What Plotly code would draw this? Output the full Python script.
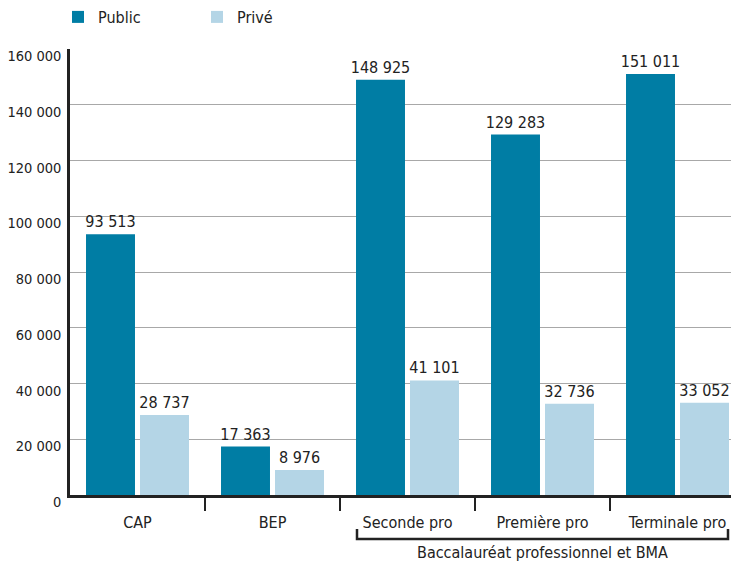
import plotly.graph_objects as go

categories = ["CAP", "BEP", "Seconde pro", "Première pro", "Terminale pro"]
public_values = [93513, 17363, 148925, 129283, 151011]
prive_values = [28737, 8976, 41101, 32736, 33052]
y_ticks = [0, 20000, 40000, 60000, 80000, 100000, 120000, 140000, 160000]
group_label = "Baccalauréat professionnel et BMA"

FONT = "DejaVu Sans Condensed, Liberation Sans Narrow, Arial Narrow, sans-serif"
C_PUB = "#007DA4"
C_PRI = "#B4D5E6"
TXT = "#222222"

xs = list(range(len(categories)))

fig = go.Figure()
fig.add_trace(go.Bar(
    x=xs, y=public_values, name="Public", marker=dict(color=C_PUB, line=dict(width=0)),
    texttemplate="%{y:,}", textposition="outside", cliponaxis=False, constraintext="none",
    textfont=dict(family=FONT, size=16, color=TXT),
))
fig.add_trace(go.Bar(
    x=xs, y=prive_values, name="Privé", marker=dict(color=C_PRI, line=dict(width=0)),
    texttemplate="%{y:,}", textposition="outside", cliponaxis=False, constraintext="none",
    textfont=dict(family=FONT, size=16, color=TXT),
))

# page body has an 8px margin: figure is offset by (8, 8) in the window
OFF = 8
WIN_W, WIN_H = 739, 562
W, H = WIN_W - OFF, WIN_H - OFF
AX_X, AX_Y, TOP_Y = 70, 495, 49          # window pixel positions
L = AX_X - OFF
T = TOP_Y - OFF
B = WIN_H - AX_Y
plot_w = WIN_W - AX_X
plot_h = AX_Y - TOP_Y
cat_px = 135.0
xmax = -0.5 + plot_w / cat_px

fig.update_layout(
    width=W, height=H,
    margin=dict(l=L, r=0, t=T, b=B, pad=0, autoexpand=False),
    paper_bgcolor="white", plot_bgcolor="white",
    separators=", ",
    barmode="group", bargap=0.2, bargroupgap=0.093,
    font=dict(family=FONT, size=16, color=TXT),
    showlegend=True,
    legend=dict(
        orientation="h", xref="container", yref="paper",
        x=(58 - OFF) / W, y=1 + (T + 8) / plot_h, xanchor="left", yanchor="top",
        entrywidth=94, entrywidthmode="pixels",
        font=dict(family=FONT, size=16, color=TXT),
        bgcolor="rgba(0,0,0,0)", itemsizing="constant",
    ),
    xaxis=dict(
        range=[-0.5, xmax], tickmode="array", tickvals=xs, ticktext=categories,
        ticks="outside", ticklen=11, tickcolor="rgba(0,0,0,0)",
        showgrid=False, zeroline=False, automargin=False,
        showline=True, linecolor="#222", linewidth=2.5,
        tickfont=dict(family=FONT, size=16, color=TXT),
        minor=dict(tickmode="array", tickvals=[i + 0.5 for i in xs[:-1]],
                   ticks="outside", ticklen=13, tickwidth=2, tickcolor="#222", showgrid=False),
        fixedrange=True,
    ),
    yaxis=dict(
        range=[0, 160000], tickmode="array", tickvals=y_ticks,
        tickformat=",", ticks="outside", ticklen=3, tickcolor="rgba(0,0,0,0)",
        ticklabelshift=7,
        showgrid=True, gridcolor="#a8a8a8", gridwidth=1.3, automargin=False,
        zeroline=False, showline=True, linecolor="#222", linewidth=2.5,
        tickfont=dict(family=FONT, size=14.5, color=TXT),
        fixedrange=True,
    ),
)

# bracket for grouped categories
x_left = -0.5 + (357 - AX_X) / cat_px
x_right = -0.5 + (728 - AX_X) / cat_px
y_top = -(529 - AX_Y) / plot_h
y_bot = -(539 - AX_Y) / plot_h
fig.add_shape(type="path",
              path=f"M {x_left} {y_top} L {x_left} {y_bot} L {x_right} {y_bot} L {x_right} {y_top}",
              xref="x", yref="paper", line=dict(color="#222", width=2.5))
fig.add_annotation(x=(x_left + x_right) / 2, y=-(552 - AX_Y) / plot_h,
                   xref="x", yref="paper", text=group_label, showarrow=False,
                   xanchor="center", yanchor="middle",
                   font=dict(family=FONT, size=16, color=TXT))

fig.write_html("out.html", config={"displayModeBar": False})
